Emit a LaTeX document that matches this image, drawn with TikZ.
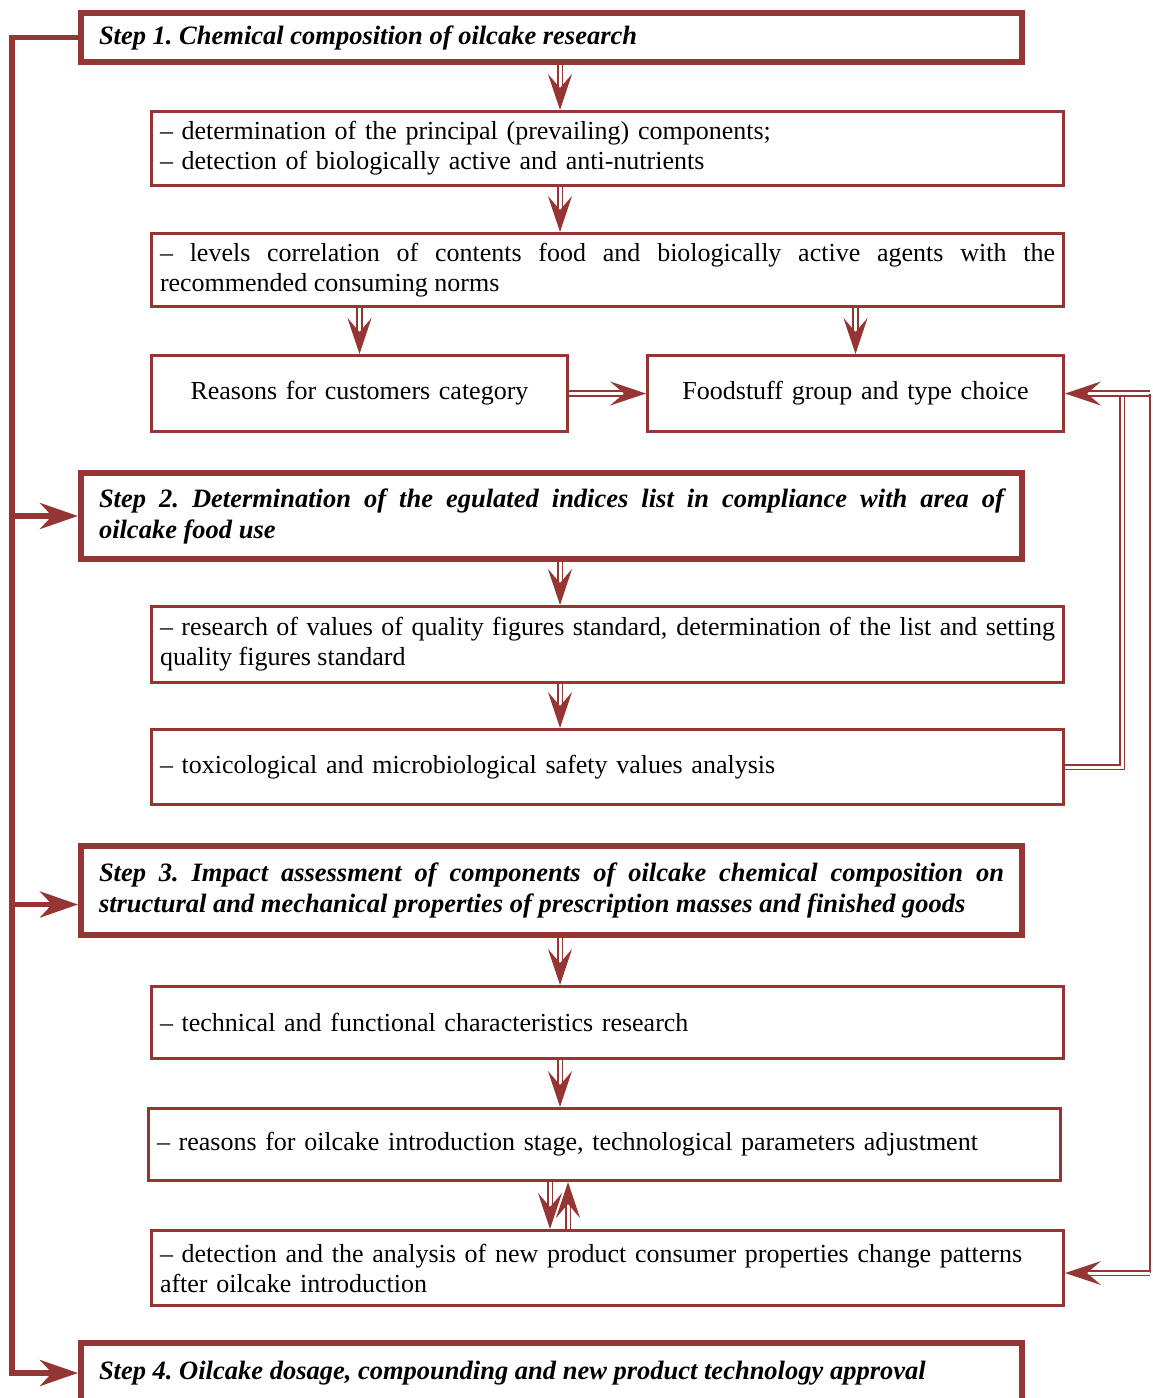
\documentclass[tikz,border=0pt]{standalone}
\usepackage{fontspec}
\setmainfont{Liberation Serif}
\usetikzlibrary{arrows.meta}
\definecolor{oilred}{RGB}{150,54,52}
\hyphenpenalty=10000
\exhyphenpenalty=10000

\begin{document}
\begin{tikzpicture}[
    x=1pt, y=-1pt,
    box/.style={draw=oilred, line width=3pt, anchor=north west, inner xsep=8.5pt, inner ysep=3pt,
                minimum width=912pt, text width=895pt, align=justify,
                font=\fontsize{26}{30}\selectfont},
    ragged/.style={align=left},
    choice/.style={box, minimum width=416pt, text width=380pt, align=center},
    stepbox/.style={box, line width=6pt, inner xsep=18pt, minimum width=941pt, text width=905pt,
                    font=\fontsize{26.5}{31}\selectfont\bfseries\itshape},
    dblline/.style={draw=oilred, line width=1.8pt, double=white, double distance=3pt},
    dblarrow/.style={dblline, -{Stealth[length=36pt, width=24pt, inset=14pt]}},
    busline/.style={draw=oilred, line width=5.5pt},
    busarrow/.style={busline, -{Stealth[length=38pt, width=26pt, inset=12pt]}}
  ]
  \useasboundingbox (0,0) rectangle (1153,1398);

  % Step 1
  \node[stepbox, minimum height=49pt] (step1) at (78,10) {Step 1.\ Chemical composition of oilcake research};
  \node[box, ragged, minimum height=74pt] (princ) at (150,110)
    {– determination of the principal (prevailing) components;\\– detection of biologically active and anti-nutrients};
  \node[box, minimum height=73pt] (corr) at (150,232)
    {– levels correlation of contents food and biologically active agents with the recommended consuming norms};
  \node[choice, minimum height=76pt] (cust) at (150,354) {Reasons for customers category};
  \node[choice, minimum height=76pt] (food) at (646,354) {Foodstuff group and type choice};

  % Step 2
  \node[stepbox, minimum height=86pt] (step2) at (78,470)
    {Step 2.\ Determination of the egulated indices list in compliance with area of\linebreak oilcake food use};
  \node[box, minimum height=76pt] (qual) at (150,605)
    {– research of values of quality figures standard, determination of the list and setting quality figures standard};
  \node[box, ragged, minimum height=75pt] (safety) at (150,728)
    {– toxicological and microbiological safety values analysis};

  % Step 3
  \node[stepbox, minimum height=89pt] (step3) at (78,843)
    {Step 3.\ Impact assessment of components of oilcake chemical composition on structural and mechanical properties of prescription masses and finished goods};
  \node[box, ragged, minimum height=72pt] (tech) at (150,985)
    {– technical and functional characteristics research};
  \node[box, ragged, minimum height=72pt, minimum width=911pt] (intro) at (147,1107)
    {– reasons for oilcake introduction stage, technological parameters adjustment};
  \node[box, ragged, minimum height=75pt, minimum width=910pt] (patt) at (150,1229)
    {– detection and the analysis of new product consumer properties change patterns\\after oilcake introduction};

  % Step 4
  \node[stepbox, minimum height=60pt] (step4) at (78,1340)
    {Step 4.\ Oilcake dosage, compounding and new product technology approval};

  % Helper coordinates
  \coordinate (mid) at (560,0);
  \coordinate (dn) at (550,0);
  \coordinate (up) at (568,0);
  \coordinate (bus) at (12,0);
  \coordinate (rin) at (1122,0);
  \coordinate (rout) at (1150,0);
  \coordinate (s3in) at ([yshift=-14pt]step3.west);
  \coordinate (pattin) at ([yshift=-5pt]patt.east);

  % Connections
  \draw[dblarrow] (step1.south -| mid) -- (princ.north -| mid);
  \draw[dblarrow] (princ.south -| mid) -- (corr.north -| mid);
  \draw[dblarrow] (corr.south -| cust.north) -- (cust.north);
  \draw[dblarrow] (corr.south -| food.north) -- (food.north);
  \draw[dblarrow] (cust.east) -- (food.west);
  \draw[dblarrow] (step2.south -| mid) -- (qual.north -| mid);
  \draw[dblarrow] (qual.south -| mid) -- (safety.north -| mid);
  \draw[dblarrow] (step3.south -| mid) -- (tech.north -| mid);
  \draw[dblarrow] (tech.south -| mid) -- (intro.north -| mid);
  \draw[dblarrow] (intro.south -| dn) -- (patt.north -| dn);
  \draw[dblarrow] (patt.north -| up) -- (intro.south -| up);

  % Left bus
  \draw[busarrow] (step1.west) -| (bus |- step4.west) -- (step4.west);
  \draw[busarrow] (bus |- step2.west) -- (step2.west);
  \draw[busarrow] (bus |- s3in) -- (s3in);

  % Right feedback
  \draw[dblline] (safety.east) -| (rin |- food.east);
  \draw[dblarrow] (rout |- food.east) -- (food.east);
  \draw[draw=oilred, line width=2.5pt] (rout |- food.east) -- (rout |- pattin);
  \draw[dblarrow] (rout |- pattin) -- (pattin);
\end{tikzpicture}
\end{document}
